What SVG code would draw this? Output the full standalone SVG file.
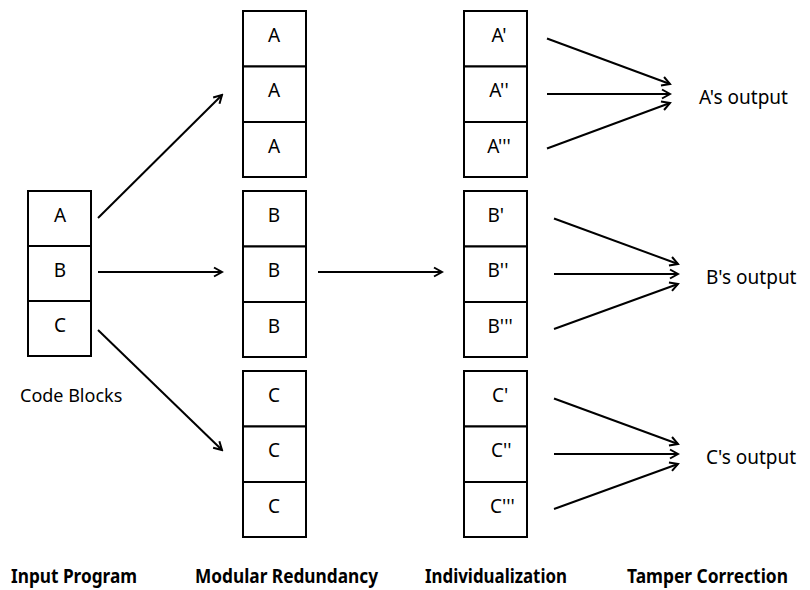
<svg xmlns="http://www.w3.org/2000/svg" width="810" height="590" viewBox="0 0 810 590">
  <defs>
    <marker id="head" viewBox="0 0 12 12" refX="10" refY="6" markerWidth="12" markerHeight="12" markerUnits="userSpaceOnUse" orient="auto">
      <path d="M2,1.5 L10,6 L2,10.5" fill="none" stroke="#000" stroke-width="2" stroke-linejoin="miter"/>
    </marker>
    <style>
      .box { fill: #fff; stroke: #000; stroke-width: 2; }
      .lbl { font-family: "Noto Sans", "Open Sans", "DejaVu Sans", sans-serif; font-size: 19px; fill: #000; }
      .note { font-family: "Noto Sans", "Open Sans", "DejaVu Sans", sans-serif; font-size: 18px; fill: #000; }
      .mid { text-anchor: middle; }
      .stage { font-family: "Noto Sans", "Open Sans", "DejaVu Sans", sans-serif; font-size: 19px; font-weight: bold; font-stretch: condensed; fill: #000; }
      .edge { fill: none; stroke: #000; stroke-width: 2; marker-end: url(#head); }
    </style>
  </defs>
  <rect width="810" height="590" fill="#fff"/>

  <!-- input program -->
  <g id="input-blocks">
    <rect class="box" x="28" y="191" width="63" height="55"/>
    <rect class="box" x="28" y="246" width="63" height="55"/>
    <rect class="box" x="28" y="301" width="63" height="55"/>
    <text class="lbl mid" x="60" y="222">A</text>
    <text class="lbl mid" x="60" y="277">B</text>
    <text class="lbl mid" x="60" y="332">C</text>
  </g>
  <text id="code-blocks" class="note" x="20" y="402">Code Blocks</text>

  <!-- modular redundancy -->
  <g id="redundant-a">
    <rect class="box" x="243" y="11" width="63" height="55.5"/>
    <rect class="box" x="243" y="66.5" width="63" height="55.5"/>
    <rect class="box" x="243" y="122" width="63" height="55"/>
    <text class="lbl mid" x="274" y="42">A</text>
    <text class="lbl mid" x="274" y="97">A</text>
    <text class="lbl mid" x="274" y="153">A</text>
  </g>
  <g id="redundant-b">
    <rect class="box" x="243" y="191" width="63" height="55.5"/>
    <rect class="box" x="243" y="246.5" width="63" height="55.5"/>
    <rect class="box" x="243" y="302" width="63" height="55"/>
    <text class="lbl mid" x="274" y="222">B</text>
    <text class="lbl mid" x="274" y="277">B</text>
    <text class="lbl mid" x="274" y="333">B</text>
  </g>
  <g id="redundant-c">
    <rect class="box" x="243" y="371" width="63" height="55.5"/>
    <rect class="box" x="243" y="426.5" width="63" height="55.5"/>
    <rect class="box" x="243" y="482" width="63" height="55"/>
    <text class="lbl mid" x="274" y="402">C</text>
    <text class="lbl mid" x="274" y="457">C</text>
    <text class="lbl mid" x="274" y="513">C</text>
  </g>

  <!-- individualization -->
  <g id="variant-a">
    <rect class="box" x="464" y="11" width="63" height="55.5"/>
    <rect class="box" x="464" y="66.5" width="63" height="55.5"/>
    <rect class="box" x="464" y="122" width="63" height="55"/>
    <text class="lbl mid" x="499" y="42">A'</text>
    <text class="lbl mid" x="499" y="97">A''</text>
    <text class="lbl mid" x="499" y="153">A'''</text>
  </g>
  <g id="variant-b">
    <rect class="box" x="464" y="191" width="63" height="55.5"/>
    <rect class="box" x="464" y="246.5" width="63" height="55.5"/>
    <rect class="box" x="464" y="302" width="63" height="55"/>
    <text class="lbl" x="487.5" y="222">B'</text>
    <text class="lbl" x="487.5" y="277">B''</text>
    <text class="lbl" x="487.5" y="333">B'''</text>
  </g>
  <g id="variant-c">
    <rect class="box" x="464" y="371" width="63" height="55.5"/>
    <rect class="box" x="464" y="426.5" width="63" height="55.5"/>
    <rect class="box" x="464" y="482" width="63" height="55"/>
    <text class="lbl" x="492" y="402">C'</text>
    <text class="lbl" x="491" y="457">C''</text>
    <text class="lbl" x="490" y="513">C'''</text>
  </g>

  <!-- tamper correction outputs -->
  <g id="output-a"><text class="lbl" x="699" y="104">A's output</text></g>
  <g id="output-b"><text class="lbl" x="706" y="284">B's output</text></g>
  <g id="output-c"><text class="lbl" x="706" y="464">C's output</text></g>

  <!-- connectors -->
  <g id="connectors">
    <line class="edge" x1="98" y1="218" x2="222" y2="95"/>
    <line class="edge" x1="98" y1="272" x2="222" y2="272"/>
    <line class="edge" x1="98" y1="330" x2="222" y2="450"/>
    <line class="edge" x1="318" y1="272" x2="442" y2="272"/>

    <line class="edge" x1="547" y1="38.5" x2="670" y2="84"/>
    <line class="edge" x1="547" y1="94" x2="670" y2="94"/>
    <line class="edge" x1="547" y1="148.5" x2="670" y2="103"/>

    <line class="edge" x1="554" y1="218.5" x2="678" y2="264"/>
    <line class="edge" x1="554" y1="274" x2="678" y2="274"/>
    <line class="edge" x1="554" y1="329" x2="678" y2="284"/>

    <line class="edge" x1="554" y1="398.5" x2="678" y2="444"/>
    <line class="edge" x1="554" y1="454" x2="678" y2="454"/>
    <line class="edge" x1="554" y1="509" x2="678" y2="464"/>
  </g>

  <!-- stage captions -->
  <g id="captions">
    <text class="stage" x="11" y="583" textLength="126" lengthAdjust="spacingAndGlyphs">Input Program</text>
    <text class="stage" x="195" y="583" textLength="183" lengthAdjust="spacingAndGlyphs">Modular Redundancy</text>
    <text class="stage" x="425" y="583" textLength="142" lengthAdjust="spacingAndGlyphs">Individualization</text>
    <text class="stage" x="627" y="583" textLength="161" lengthAdjust="spacingAndGlyphs">Tamper Correction</text>
  </g>
</svg>
